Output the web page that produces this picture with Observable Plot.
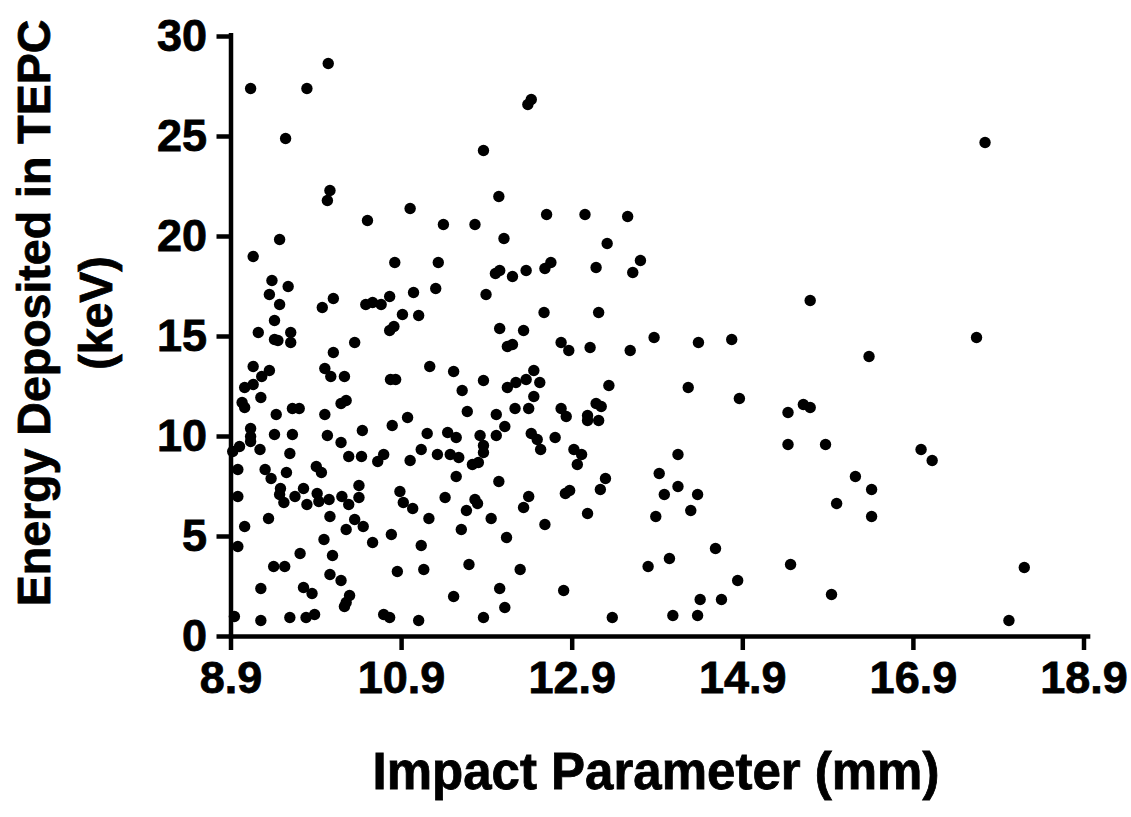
<!DOCTYPE html>
<html>
<head>
<meta charset="utf-8">
<script src="https://cdn.jsdelivr.net/npm/d3@7"></script>
<script src="https://cdn.jsdelivr.net/npm/@observablehq/plot@0.6"></script>
<style>
  html, body { margin: 0; padding: 0; background: #fff; }
  #chart svg { display: block; }
</style>
</head>
<body>
<div id="chart"></div>
<script>
const xTicks = [8.9, 10.9, 12.9, 14.9, 16.9, 18.9];
const yTicks = [0, 5, 10, 15, 20, 25, 30];
const xTitle = "Impact Parameter (mm)";
const yTitle = ["Energy Deposited in TEPC", "(keV)"];

const impact = [
  10.04, 9.13, 9.79, 9.54, 10.06, 10.03, 10.5, 9.47,
  12.42, 12.38, 11.86, 12.04, 11.0, 11.39, 11.76, 12.1, 12.6,
  13.05, 13.55, 13.31, 17.74,
  9.16, 9.38, 9.57, 9.35, 9.47, 10.1, 9.97, 10.48, 10.56, 10.66, 10.76,
  9.41, 9.22, 9.41, 9.45, 9.6, 9.6, 10.76, 10.81, 10.35, 10.1,
  9.16, 9.35, 9.26, 9.16, 9.06, 10.0, 10.07, 10.23, 9.25, 9.03, 9.06,
  10.19, 10.25, 9.43, 9.62, 9.7, 10.0, 10.44, 9.13, 9.13, 9.41, 9.62, 10.03, 10.19,
  10.82, 11.33, 12.0, 12.05, 12.2, 12.36, 12.58, 12.65, 11.04, 11.3, 11.89,
  10.91, 11.1, 12.57, 12.05, 12.33, 12.14, 12.2, 11.23, 11.51, 11.86,
  10.77, 10.83, 11.61, 12.14, 12.24, 12.36, 12.45, 12.52, 12.45,
  11.67, 12.01, 12.23, 12.39, 12.11, 10.97, 10.79, 11.2, 11.44, 11.54,
  11.82, 12.01, 12.42, 12.49,
  13.18, 13.7, 13.61, 13.21, 12.77, 12.86, 13.11, 13.58, 13.86, 14.38,
  13.33, 14.26, 12.77, 12.83, 13.18, 13.24, 13.08, 13.08, 13.21, 12.7,
  15.69, 14.77, 16.38, 17.64, 14.86, 15.43, 15.61, 15.69, 15.43, 15.87,
  16.99, 17.12, 16.22, 16.41, 16.0, 16.41, 14.37, 14.29, 14.58, 15.46,
  14.84, 15.94, 14.4, 14.65, 14.37, 18.2, 18.02,
  12.53, 12.92, 13.01, 12.96, 14.14, 13.92, 14.14, 13.98, 13.88, 13.29,
  13.23, 12.82, 12.87, 13.08, 12.58, 13.79, 14.04, 12.8, 13.37, 14.08,
  10.69, 10.62, 11.13, 11.0, 11.32, 11.47, 11.57, 11.86, 11.86, 11.73,
  11.8, 11.54, 12.04, 10.88, 10.92, 11.03, 11.41, 11.76, 11.79, 11.66,
  12.39, 12.33, 11.22, 11.95, 10.78, 11.6, 12.13, 11.13, 10.85, 11.16,
  11.69, 12.29, 12.05, 11.51, 12.11, 10.69, 10.76, 11.1, 11.86,
  9.13, 9.24, 8.92, 9.0, 9.59, 10.28, 10.43, 8.98, 9.3, 9.37, 9.55, 9.9, 9.96,
  8.98, 9.48, 9.47, 9.52, 9.65, 9.75, 9.79, 9.91, 9.93, 10.05, 10.06,
  10.2, 10.28, 10.4, 10.4, 10.35, 10.45, 10.25, 9.34, 9.06, 8.98, 9.99,
  10.56, 9.71, 10.09, 9.4, 9.53, 10.06, 10.19, 9.25, 9.75, 9.85, 10.29,
  10.23, 10.25, 8.94, 9.25, 9.59, 9.78, 9.88
];

const energy = [
  28.65, 27.4, 27.4, 24.9, 22.3, 21.8, 20.8, 19.85,
  26.85, 26.6, 24.3, 22.0, 21.4, 20.6, 20.6, 19.9, 21.1,
  21.1, 21.0, 19.65, 24.7,
  19.0, 17.8, 17.5, 17.1, 16.6, 16.9, 16.45, 16.6, 16.7, 16.6, 17.0,
  15.8, 15.2, 14.85, 14.8, 15.2, 14.7, 15.3, 15.5, 14.7, 14.2,
  13.5, 13.3, 13.0, 12.6, 12.45, 13.4, 13.0, 13.0, 11.95, 11.7, 11.45,
  11.65, 11.8, 11.1, 11.4, 11.4, 11.1, 10.3, 10.4, 10.0, 10.1, 10.1, 10.05, 9.7,
  18.7, 18.7, 18.15, 18.3, 18.0, 18.3, 18.4, 18.7, 17.2, 17.4, 17.1,
  16.1, 16.05, 16.2, 15.4, 15.3, 14.5, 14.6, 13.5, 13.25, 12.8,
  12.85, 12.85, 12.3, 12.45, 12.7, 12.85, 13.3, 12.7, 12.0,
  11.25, 11.1, 11.4, 11.4, 10.5, 10.95, 10.55, 10.15, 10.2, 9.95,
  10.05, 10.05, 10.15, 9.85,
  18.45, 18.8, 18.2, 16.2, 14.7, 14.3, 14.45, 14.3, 14.95, 14.7,
  12.55, 12.45, 11.4, 11.0, 11.65, 11.5, 11.05, 10.8, 10.8, 9.95,
  16.8, 14.85, 14.0, 14.95, 11.9, 11.2, 11.6, 11.45, 9.6, 9.6,
  9.35, 8.8, 8.0, 7.35, 6.65, 6.0, 7.1, 6.3, 4.4, 3.6,
  2.8, 2.1, 1.85, 1.85, 1.05, 3.45, 0.8,
  9.35, 9.35, 9.1, 8.6, 9.1, 8.15, 7.5, 7.1, 6.0, 7.9,
  7.35, 7.15, 7.3, 6.15, 5.6, 3.5, 3.9, 2.3, 0.95, 1.05,
  9.1, 8.75, 9.35, 8.8, 9.1, 9.1, 8.95, 9.55, 9.2, 8.6,
  8.7, 8.0, 7.75, 7.25, 6.7, 6.4, 6.95, 6.85, 6.65, 6.3,
  7.0, 6.45, 5.9, 5.9, 5.1, 5.35, 4.95, 4.55, 3.25, 3.35,
  3.6, 3.35, 2.4, 2.0, 1.45, 1.1, 0.95, 0.8, 0.95,
  9.75, 9.35, 9.25, 9.5, 9.15, 9.0, 9.0, 8.35, 8.35, 7.9, 8.2, 8.5, 8.2,
  7.0, 7.4, 7.1, 6.7, 7.0, 7.4, 6.6, 7.15, 6.75, 6.85, 6.0,
  7.0, 6.6, 7.55, 6.95, 5.85, 5.5, 5.35, 5.9, 5.5, 4.5, 4.85,
  4.7, 4.15, 4.05, 3.5, 3.5, 3.1, 2.8, 2.4, 2.45, 2.15, 2.05,
  1.5, 1.7, 1.0, 0.8, 0.95, 0.95, 1.1
];

const data = impact.map((x, i) => ({x, y: energy[i]}));

const W = 1131, H = 817;
const fontFamily = "'Liberation Sans', Arial, Helvetica, sans-serif";

const chart = Plot.plot({
  width: W,
  height: H,
  marginLeft: 230.5,
  marginRight: W - 1083.5,
  marginTop: 36,
  marginBottom: H - 636,
  style: {fontFamily, fontWeight: "bold", fontSize: "45px", color: "#000", background: "#fff"},
  x: {domain: [8.9, 18.9], axis: null},
  y: {domain: [0, 30], axis: null},
  marks: [
    Plot.axisX({ticks: xTicks, tickSize: 14, tickPadding: 11, strokeWidth: 4.5, tickFormat: d => d.toFixed(1), label: null, fontSize: 45, fontWeight: "bold"}),
    Plot.axisY({ticks: yTicks, tickSize: 14, tickPadding: 10, strokeWidth: 4.5, label: null, fontSize: 45, fontWeight: "bold"}),
    Plot.ruleX([8.9], {y1: 0, y2: 30.15, strokeWidth: 4.5, stroke: "#000"}),
    Plot.ruleY([0], {x1: 8.88, x2: 18.98, strokeWidth: 4.5, stroke: "#000"}),
    Plot.dot(data, {x: "x", y: "y", r: 5.7, fill: "#000", stroke: "none"})
  ]
});

const svg = d3.select(chart);
svg.selectAll("g[aria-label='x-axis tick label'] text, g[aria-label='y-axis tick label'] text")
  .attr("stroke", "#000").attr("stroke-width", 0.8);
svg.append("text")
  .attr("x", 656).attr("y", 789)
  .attr("text-anchor", "middle")
  .attr("font-family", fontFamily).attr("font-weight", "bold").attr("font-size", 51)
  .attr("fill", "#000").attr("stroke", "#000").attr("stroke-width", 0.8)
  .text(xTitle);
const yt = svg.append("g").attr("transform", "translate(0,313) rotate(-90)");
yt.append("text")
  .attr("x", 0).attr("y", 50)
  .attr("text-anchor", "middle")
  .attr("font-family", fontFamily).attr("font-weight", "bold").attr("font-size", 46.5)
  .attr("fill", "#000").attr("stroke", "#000").attr("stroke-width", 0.8)
  .text(yTitle[0]);
yt.append("text")
  .attr("x", 0).attr("y", 112)
  .attr("text-anchor", "middle")
  .attr("font-family", fontFamily).attr("font-weight", "bold").attr("font-size", 46.5)
  .attr("fill", "#000").attr("stroke", "#000").attr("stroke-width", 0.8)
  .text(yTitle[1]);

document.getElementById("chart").appendChild(chart);
</script>
</body>
</html>
